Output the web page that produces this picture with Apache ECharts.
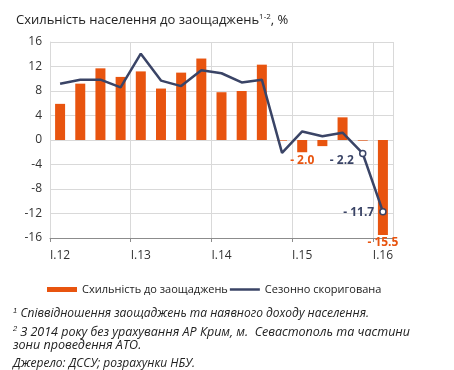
<!DOCTYPE html>
<html><head><meta charset="utf-8">
<script src="https://cdn.jsdelivr.net/npm/echarts@6/dist/echarts.min.js"></script>
<style>html,body{margin:0;padding:0;background:#fff}#c{width:454px;height:370px}</style>
</head><body><div id="c"></div>
<script>
const categories = ['I.12','II.12','III.12','IV.12','I.13','II.13','III.13','IV.13','I.14','II.14','III.14','IV.14','I.15','II.15','III.15','IV.15','I.16'];
const savingsRate = [5.9, 9.2, 11.7, 10.3, 11.2, 8.4, 11.0, 13.3, 7.8, 8.0, 12.3, -0.1, -2.0, -1.0, 3.7, -0.1, -15.5];
const seasonallyAdjusted = [9.2, 9.85, 9.85, 8.6, 14.1, 9.7, 8.8, 11.4, 10.9, 9.4, 9.85, -2.1, 1.4, 0.6, 1.2, -2.2, -11.7];
const barLabelIdx = [12, 16];
const lineLabelIdx = [15, 16];
const yTicks = [-16, -12, -8, -4, 0, 4, 8, 12, 16];
const seriesNames = ['Схильність до заощаджень', 'Сезонно скоригована'];

const ORANGE = '#E8540F', NAVY = '#3A4466';
const fmt = v => (v < 0 ? '- ' : '') + Math.abs(v).toFixed(1);

const chart = echarts.init(document.getElementById('c'), null, {renderer: 'canvas'});
chart.setOption({
  animation: false,
  textStyle: {fontFamily: 'Open Sans, Liberation Sans, sans-serif'},
  title: {
    text: '{t|Схильність населення до заощаджень}{s|1-2}{t|, %}',
    left: 11, top: 8,
    textStyle: {fontWeight: 'normal', rich: {
      t: {fontSize: 13, color: '#222', fontFamily: 'Open Sans', fontWeight: 'normal'},
      s: {fontSize: 8, color: '#222', fontFamily: 'Open Sans', fontWeight: 'normal', padding: [0, 0, 7, 0]}
    }}
  },
  grid: {left: 50, right: 61, top: 42, bottom: 132, containLabel: false},
  xAxis: [{
    type: 'category', data: categories, boundaryGap: true,
    axisLine: {show: false}, axisTick: {show: false},
    axisLabel: {interval: 3, color: '#333', fontSize: 12, margin: 12},
    splitLine: {show: true, interval: 3, lineStyle: {color: '#D9D9D9', width: 1}}
  }, {
    type: 'category', data: categories, boundaryGap: true, position: 'bottom',
    axisLine: {show: true, onZero: true, lineStyle: {color: '#8C8C8C', width: 1}},
    axisTick: {show: true, interval: 3, length: 4, lineStyle: {color: '#8C8C8C'}},
    axisLabel: {show: false}, splitLine: {show: false}
  }],
  yAxis: {
    type: 'value', min: yTicks[0], max: yTicks[yTicks.length - 1], interval: 4,
    axisLine: {show: true, lineStyle: {color: '#D9D9D9'}},
    axisTick: {show: false},
    axisLabel: {color: '#333', fontSize: 12, margin: 8},
    splitLine: {lineStyle: {color: '#D9D9D9', width: 1}}
  },
  legend: {
    left: 42, top: 279, itemWidth: 30, itemHeight: 5, itemGap: 2,
    symbolKeepAspect: true,
    textStyle: {fontSize: 11, color: '#222'},
    data: [
      {name: seriesNames[0], icon: 'rect'},
      {name: seriesNames[1], icon: 'path://M0,0H30V2.5H0Z', itemStyle: {color: NAVY}}
    ]
  },
  series: [{
    name: seriesNames[0], type: 'bar', barWidth: 10,
    itemStyle: {color: ORANGE},
    data: savingsRate.map((v, i) => barLabelIdx.includes(i) ? {
      value: v, label: {show: true, position: 'bottom', distance: 2, formatter: p => fmt(p.value),
        color: ORANGE, fontWeight: 'bold', fontSize: 12}
    } : v)
  }, {
    name: seriesNames[1], type: 'line', symbol: 'none', showAllSymbol: true,
    lineStyle: {color: NAVY, width: 2.5}, itemStyle: {color: NAVY},
    z: 5,
    data: seasonallyAdjusted.map((v, i) => lineLabelIdx.includes(i) ? {
      value: v, symbol: 'circle', symbolSize: 6,
      itemStyle: {color: '#fff', borderColor: NAVY, borderWidth: 1.5},
      label: {show: true, position: 'left', distance: 5, formatter: p => fmt(p.value),
        color: NAVY, fontWeight: 'bold', fontSize: 12, offset: i === 15 ? [0, 7] : [0, 1]}
    } : v)
  }],
  graphic: [{
    type: 'text', left: 13, top: 307,
    style: {
      text: '{s|1} {t|Співвідношення заощаджень та наявного доходу населення.}',
      rich: {s: {fontSize: 7.5, fontStyle: 'italic', padding: [0, 0, 6, 0], fill: '#222'},
             t: {fontSize: 12, fontStyle: 'italic', fill: '#222', fontFamily: 'Open Sans', lineHeight: 14}}
    }
  }, {
    type: 'text', left: 13, top: 325,
    style: {
      text: '{s|2} {t|З 2014 року без урахування АР Крим, м.  Севастополь та частини}\n{t|зони проведення АТО.}',
      rich: {s: {fontSize: 7.5, fontStyle: 'italic', padding: [0, 0, 6, 0], fill: '#222'},
             t: {fontSize: 12.5, fontStyle: 'italic', fill: '#222', fontFamily: 'Open Sans', lineHeight: 13.5}}
    }
  }, {
    type: 'text', left: 13, top: 358,
    style: {text: 'Джерело: ДССУ; розрахунки НБУ.', font: 'italic 12px "Open Sans"', fill: '#222'}
  }]
});
</script></body></html>
